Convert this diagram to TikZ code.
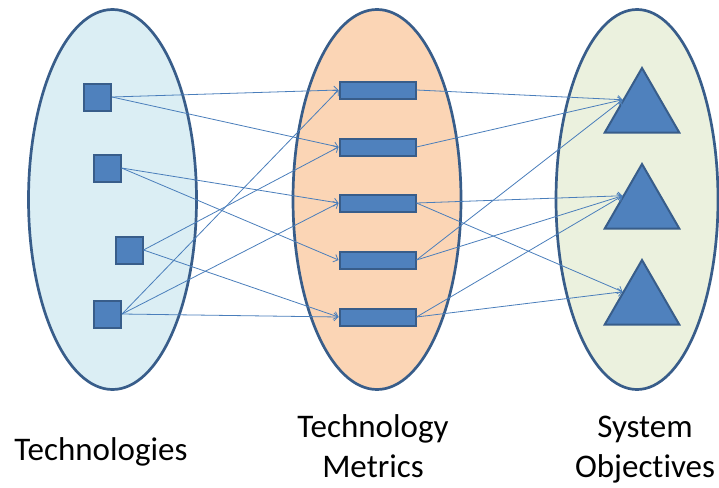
\documentclass[tikz,border=0pt]{standalone}
\usepackage{fontspec}
\setmainfont{Carlito}[Ligatures=NoCommon]
\usetikzlibrary{shapes.geometric,arrows.meta}
\definecolor{rim}{HTML}{385D8A}
\definecolor{boxblue}{HTML}{4F81BD}
\definecolor{linkblue}{HTML}{4A7EBB}
\definecolor{techfill}{HTML}{DBEEF4}
\definecolor{metricfill}{HTML}{FBD5B5}
\definecolor{goalfill}{HTML}{EBF1DE}
\tikzset{
  group/.style = {ellipse, draw=rim, line width=2.7pt, minimum height=380pt, inner sep=0pt},
  tech/.style = {draw=rim, fill=boxblue, line width=2pt, minimum size=27pt, inner sep=0pt},
  metric/.style = {draw=rim, fill=boxblue, line width=2pt, minimum width=76pt, minimum height=17pt, inner sep=0pt},
  goal/.style = {regular polygon, regular polygon sides=3, draw=rim, fill=boxblue, line width=2pt, minimum size=86pt, inner sep=0pt},
  link/.style = {draw=linkblue, line width=0.8pt, -{Straight Barb[length=4pt,width=8pt]}},
  caption/.style = {font=\fontsize{33}{40}\selectfont, align=center, inner sep=0pt}
}
\begin{document}
\begin{tikzpicture}[x=1pt, y=-1pt]
\useasboundingbox (0,0) rectangle (719,487);
% the three groups
\node[group, fill=techfill, minimum width=168pt] (techs) at (112.5,199.5) {};
\node[group, fill=metricfill, minimum width=168pt] (metrics) at (377,199.5) {};
\node[group, fill=goalfill, minimum width=162pt] (goals) at (637,199.5) {};
% technologies
\node[tech] (t1) at (97.5,97) {};
\node[tech] (t2) at (107,168) {};
\node[tech] (t3) at (129,250) {};
\node[tech] (t4) at (107.5,314) {};
% metrics
\foreach \i/\y in {1/90,2/147,3/203,4/260,5/317}
  \node[metric] (m\i) at (377.5,\y) {};
% objectives
\foreach \i/\y in {1/111,2/207,3/303}
  \node[goal] (o\i) at (642,\y) {};
% links
\foreach \a/\b in {t1/m1,t1/m2,t2/m3,t2/m4,t3/m2,t3/m5,t4/m1,t4/m3,t4/m5}
  \draw[link] (\a.east) -- (\b.west);
\foreach \a/\b in {m1/o1,m2/o1,m3/o2,m3/o3,m4/o1,m4/o2,m5/o2,m5/o3}
  \draw[link] (\a.east) -- (\b.side 1);
% captions (base is the last line)
\node[caption, anchor=base] (techname) at (101,460) {Technologies};
\node[caption, anchor=base] (metricname) at (373,477) {Technology\\Metrics};
\node[caption, anchor=base] (goalname) at (645,477) {System\\Objectives};
\end{tikzpicture}
\end{document}
